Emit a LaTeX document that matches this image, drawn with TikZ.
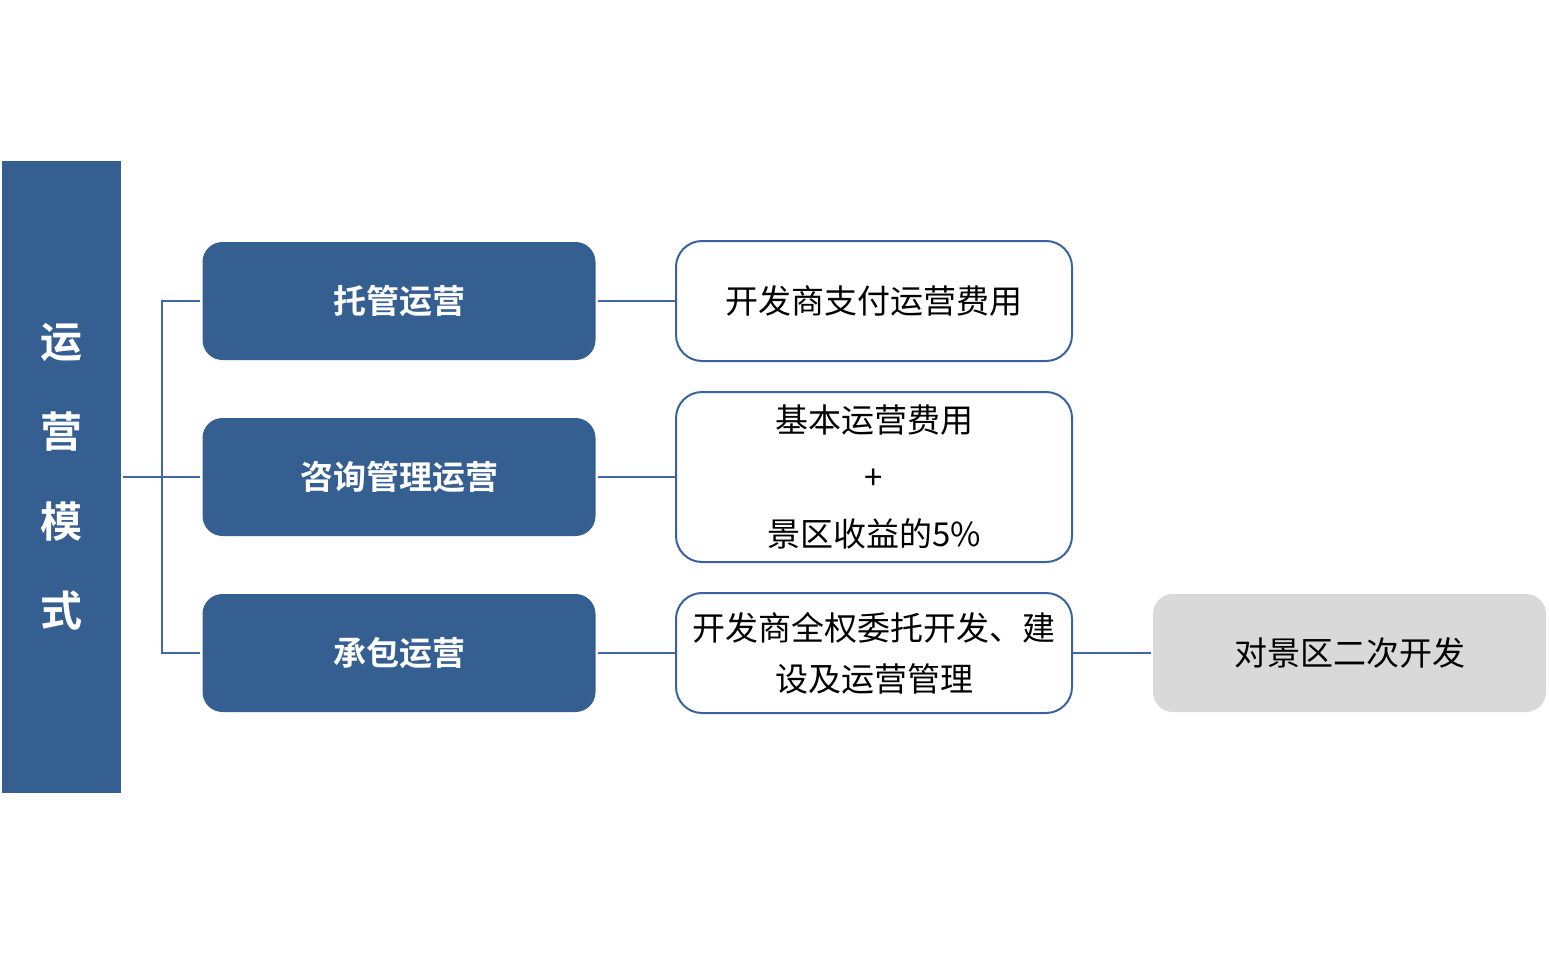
\documentclass[tikz,border=0pt]{standalone}
\usepackage{fontspec}
\newfontfamily\cjk{Noto Sans CJK SC}
\newfontfamily\cjkb{Noto Sans CJK SC Bold}
\definecolor{barblue}{HTML}{365F91}
\definecolor{lineblue}{HTML}{4067AE}
\definecolor{edgeblue}{HTML}{3A62A0}
\definecolor{boxgray}{HTML}{D9D9D9}
\begin{document}
\begin{tikzpicture}[x=1pt,y=-1pt,
  bluebox/.style={fill=barblue,rounded corners=20pt,minimum width=393pt,minimum height=118pt,text=white,font=\cjkb\fontsize{33}{36}\selectfont,inner sep=0pt},
  whitebox/.style={draw=edgeblue,line width=2pt,fill=white,rounded corners=26pt,minimum width=396pt,text=black,font=\cjk\fontsize{33}{36}\selectfont,inner sep=0pt,align=center},
  graybox/.style={fill=boxgray,rounded corners=20pt,minimum width=393pt,minimum height=118pt,text=black,font=\cjk\fontsize{33}{36}\selectfont,inner sep=0pt},
  conn/.style={draw=lineblue,line width=2.8pt}]
\useasboundingbox (0,0) rectangle (1549,955);
\node[fill=barblue,minimum width=119pt,minimum height=632pt,inner sep=0pt,anchor=north west] (bar) at (2,161) {};
\foreach \c/\y in {运/343,营/432,模/522,式/611}
  \node[text=white,font=\cjkb\fontsize{42}{44}\selectfont,inner sep=0pt] at (61,\y) {\c};
\node[bluebox] (b1) at (399,301) {托管运营};
\node[bluebox] (b2) at (399,477) {咨询管理运营};
\node[bluebox] (b3) at (399,653) {承包运营};
\node[whitebox,minimum height=120pt] (w1) at (874,301) {开发商支付运营费用};
\node[whitebox,minimum height=170pt,font=\cjk\fontsize{33}{57}\selectfont] (w2) at (874,477) {基本运营费用\\+\\景区收益的5\%};
\node[whitebox,minimum height=120pt,font=\cjk\fontsize{33}{51}\selectfont] (w3) at (874,653) {开发商全权委托开发、建\\设及运营管理};
\node[graybox] (g) at (1349.5,653) {对景区二次开发};
\coordinate (j) at (162,477);
\draw[conn] ([xshift=2pt]bar.east |- j) -- ([xshift=-2pt]b2.west);
\draw[conn] ([xshift=-2pt]b1.west) -- (b1.west -| j) -- (b3.west -| j) -- ([xshift=-2pt]b3.west);
\draw[conn] ([xshift=2pt]b1.east) -- (w1.west);
\draw[conn] ([xshift=2pt]b2.east) -- (w2.west);
\draw[conn] ([xshift=2pt]b3.east) -- (w3.west);
\draw[conn] (w3.east) -- ([xshift=-2pt]g.west);
\end{tikzpicture}
\end{document}
